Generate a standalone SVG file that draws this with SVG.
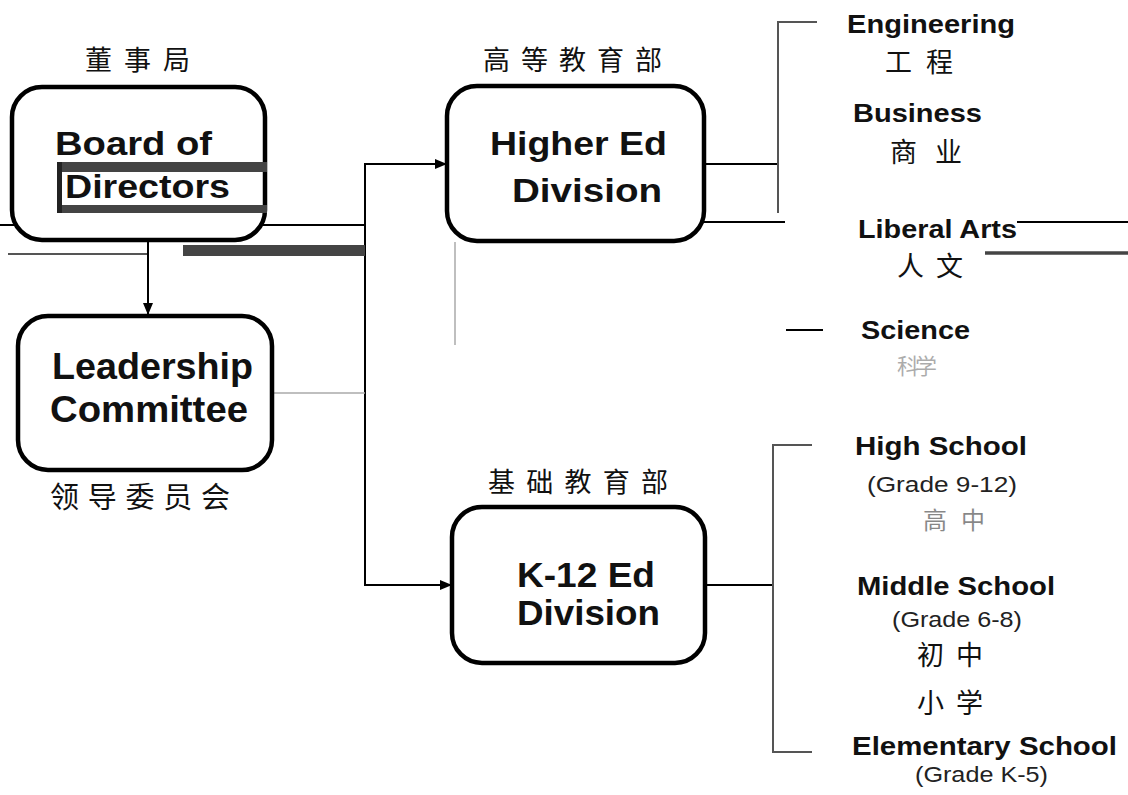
<svg xmlns="http://www.w3.org/2000/svg" width="1128" height="795" viewBox="0 0 1128 795">
<defs>
<style>
.box{fill:#fff;stroke:#000;stroke-width:4.5}
.t{font-family:"Liberation Sans",Arial,sans-serif;font-weight:bold;fill:#111}
.r{font-family:"Liberation Sans",Arial,sans-serif;fill:#222}
.cj{font-family:"Noto Sans CJK SC","Liberation Sans",sans-serif;fill:#111}
.c{stroke:#000;stroke-width:2;fill:none}
.g{stroke:#555;stroke-width:2;fill:none}
.lg{stroke:#aaa;stroke-width:1.5;fill:none}
</style>
<marker id="ah" markerWidth="12" markerHeight="10" refX="11" refY="5" orient="auto" markerUnits="userSpaceOnUse">
<path d="M0,0 L12,5 L0,10 Z" fill="#000"/>
</marker>
</defs>
<rect width="1128" height="795" fill="#fff"/>

<g id="connectors">
<line class="c" x1="148" y1="242" x2="148" y2="314" marker-end="url(#ah)"/>
<line class="c" x1="0" y1="225" x2="365" y2="225"/>
<line class="c" x1="365" y1="163" x2="365" y2="586"/>
<line class="c" x1="365" y1="164" x2="446" y2="164" marker-end="url(#ah)"/>
<line class="c" x1="365" y1="585" x2="451" y2="585" marker-end="url(#ah)"/>
<line class="lg" x1="272" y1="393" x2="365" y2="393"/>
<line class="lg" x1="455" y1="242" x2="455" y2="345"/>
<line class="c" x1="705" y1="164" x2="778" y2="164"/>
<line class="g" x1="778" y1="22" x2="778" y2="213"/>
<line class="g" x1="777" y1="22" x2="817" y2="22"/>
<line class="c" x1="453" y1="222" x2="785" y2="222" stroke-width="1.5"/>
<line class="c" x1="786" y1="330" x2="823" y2="330"/>
<line class="c" x1="705" y1="585" x2="773" y2="585"/>
<line class="g" x1="773" y1="445" x2="773" y2="752"/>
<line class="g" x1="772" y1="445" x2="812" y2="445"/>
<line class="g" x1="772" y1="752" x2="812" y2="752"/>
<line class="c" x1="1017" y1="222" x2="1128" y2="222"/>
<line stroke="#444" stroke-width="3.5" x1="985" y1="253" x2="1128" y2="253"/>
<line class="g" x1="8" y1="254" x2="147" y2="254"/>
<rect x="183" y="245" width="182" height="11" fill="#444"/>
</g>

<g id="board">
<rect class="box" x="12" y="87" width="253" height="153" rx="30"/>
<rect x="57" y="162" width="210" height="10" fill="#444"/>
<rect x="57" y="205" width="210" height="8" fill="#444"/>
<rect x="57" y="162" width="5" height="51" fill="#222"/>
<text class="t" x="55" y="155" font-size="34" textLength="157" lengthAdjust="spacingAndGlyphs">Board of</text>
<text class="t" x="65" y="198" font-size="34" textLength="165" lengthAdjust="spacingAndGlyphs">Directors</text>
<text class="cj" x="85" y="70" font-size="27" textLength="105" lengthAdjust="spacing">董事局</text>
</g>

<g id="higher-ed">
<rect class="box" x="447" y="86" width="257" height="155" rx="30"/>
<text class="t" x="490" y="155" font-size="33" textLength="177" lengthAdjust="spacingAndGlyphs">Higher Ed</text>
<text class="t" x="512" y="202" font-size="33" textLength="150" lengthAdjust="spacingAndGlyphs">Division</text>
<text class="cj" x="483" y="70" font-size="27" textLength="179" lengthAdjust="spacing">高等教育部</text>
</g>

<g id="leadership">
<rect class="box" x="18" y="316" width="254" height="154" rx="30"/>
<text class="t" x="52" y="379" font-size="37" textLength="201" lengthAdjust="spacingAndGlyphs">Leadership</text>
<text class="t" x="50" y="422" font-size="37" textLength="198" lengthAdjust="spacingAndGlyphs">Committee</text>
<text class="cj" x="50" y="508" font-size="29" textLength="180" lengthAdjust="spacing">领导委员会</text>
</g>

<g id="k12">
<rect class="box" x="452" y="507" width="253" height="156" rx="30"/>
<text class="t" x="517" y="587" font-size="35" textLength="138" lengthAdjust="spacingAndGlyphs">K-12 Ed</text>
<text class="t" x="517" y="625" font-size="35" textLength="143" lengthAdjust="spacingAndGlyphs">Division</text>
<text class="cj" x="488" y="492" font-size="27" textLength="180" lengthAdjust="spacing">基础教育部</text>
</g>

<g id="engineering">
<text class="t" x="847" y="33" font-size="25" textLength="168" lengthAdjust="spacingAndGlyphs">Engineering</text>
<text class="cj" x="885" y="72" font-size="27" textLength="68" lengthAdjust="spacing">工程</text>
</g>
<g id="business">
<text class="t" x="853" y="122" font-size="25" textLength="129" lengthAdjust="spacingAndGlyphs">Business</text>
<text class="cj" x="890" y="162" font-size="27" textLength="72" lengthAdjust="spacing">商业</text>
</g>
<g id="liberal-arts">
<text class="t" x="858" y="238" font-size="25" textLength="159" lengthAdjust="spacingAndGlyphs">Liberal Arts</text>
<text class="cj" x="897" y="276" font-size="27" textLength="66" lengthAdjust="spacing">人文</text>
</g>
<g id="science">
<text class="t" x="861" y="339" font-size="25" textLength="109" lengthAdjust="spacingAndGlyphs">Science</text>
<text class="cj" x="897" y="374" font-size="22" textLength="40" lengthAdjust="spacing" opacity="0.35">科学</text>
</g>

<g id="high-school">
<text class="t" x="855" y="455" font-size="25" textLength="172" lengthAdjust="spacingAndGlyphs">High School</text>
<text class="r" x="867" y="492" font-size="22" textLength="150" lengthAdjust="spacingAndGlyphs">(Grade 9-12)</text>
<text class="cj" x="923" y="529" font-size="24" textLength="62" lengthAdjust="spacing" opacity="0.5">高中</text>
</g>
<g id="middle-school">
<text class="t" x="857" y="595" font-size="25" textLength="198" lengthAdjust="spacingAndGlyphs">Middle School</text>
<text class="r" x="892" y="627" font-size="22" textLength="130" lengthAdjust="spacingAndGlyphs">(Grade 6-8)</text>
<text class="cj" x="917" y="665" font-size="27" textLength="66" lengthAdjust="spacing">初中</text>
</g>
<g id="elementary-school">
<text class="cj" x="917" y="713" font-size="27" textLength="66" lengthAdjust="spacing">小学</text>
<text class="t" x="852" y="755" font-size="25" textLength="265" lengthAdjust="spacingAndGlyphs">Elementary School</text>
<text class="r" x="915" y="782" font-size="22" textLength="133" lengthAdjust="spacingAndGlyphs">(Grade K-5)</text>
</g>
</svg>
